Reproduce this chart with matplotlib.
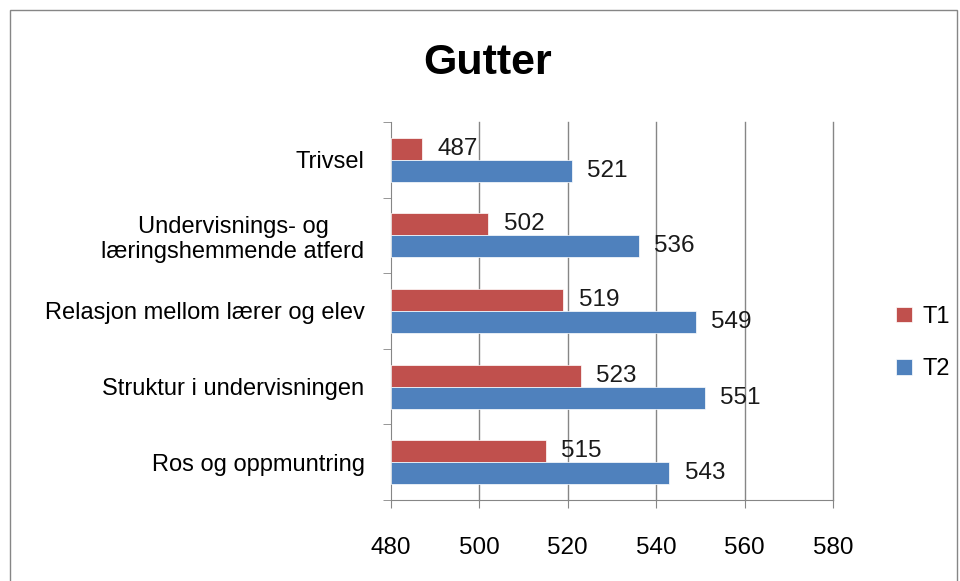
import numpy as np
import matplotlib.pyplot as plt
from matplotlib.patches import Rectangle

plt.rcParams['font.family'] = ['Liberation Sans', 'DejaVu Sans']

categories = ['Trivsel', 'Undervisnings- og\nlæringshemmende atferd',
              'Relasjon mellom lærer og elev', 'Struktur i undervisningen',
              'Ros og oppmuntring']
t1 = [487, 502, 519, 523, 515]
t2 = [521, 536, 549, 551, 543]
xticks = [480, 500, 520, 540, 560, 580]

red = '#C0504D'
blue = '#4F81BD'
grey = '#868686'

fig = plt.figure(figsize=(9.6, 5.81), dpi=100)
ax = fig.add_axes([391/960, 1-500/581, (833-391)/960, (500-122)/581])

y = np.arange(len(categories))
h = 0.29
base = 480
ax.barh(y - h/2, np.array(t1) - base, left=base, height=h, color=red, edgecolor='white', linewidth=0.5, label='T1', zorder=3)
ax.barh(y + h/2, np.array(t2) - base, left=base, height=h, color=blue, edgecolor='white', linewidth=0.5, label='T2', zorder=3)

for yi, v in zip(y, t1):
    ax.annotate(str(v), (v, yi - h/2), xytext=(11, 0), textcoords='offset points',
                va='center', ha='left', fontsize=17.5, color='#1a1a1a', zorder=4)
for yi, v in zip(y, t2):
    ax.annotate(str(v), (v, yi + h/2), xytext=(11, 0), textcoords='offset points',
                va='center', ha='left', fontsize=17.5, color='#1a1a1a', zorder=4)

ax.set_xlim(480, 580)
ax.set_ylim(len(categories) - 0.5, -0.5)
for t in xticks[1:]:
    ax.axvline(t, color=grey, linewidth=1, clip_on=False, zorder=1)
ax.set_xticks(xticks)
ax.set_xticklabels([str(t) for t in xticks], fontsize=17.5)
ax.set_yticks(y)
ax.set_yticklabels(categories, fontsize=17, ha='right', multialignment='center')
ax.tick_params(axis='y', length=0, pad=19)
ax.set_yticks(np.arange(len(categories) + 1) - 0.5, minor=True)
ax.tick_params(axis='y', which='minor', length=6, color=grey)
ax.tick_params(axis='x', length=6, color=grey, pad=21)

for s in ['top', 'right']:
    ax.spines[s].set_visible(False)
for s in ['left', 'bottom']:
    ax.spines[s].set_color(grey)

fig.text(488/960, 1-63/581, 'Gutter', fontsize=31, fontweight='bold', ha='center', va='center')

ax.legend(loc='center left', bbox_to_anchor=(1.095, 0.415), frameon=False, fontsize=17,
          handlelength=0.65, handleheight=0.65, labelspacing=1.3, handletextpad=0.45)

fig.patches.append(Rectangle((10/960, -0.05), 947/960, 1.05 - 10/581, transform=fig.transFigure,
                             fill=False, edgecolor=grey, linewidth=1))

fig.savefig('out.png', dpi=100)
